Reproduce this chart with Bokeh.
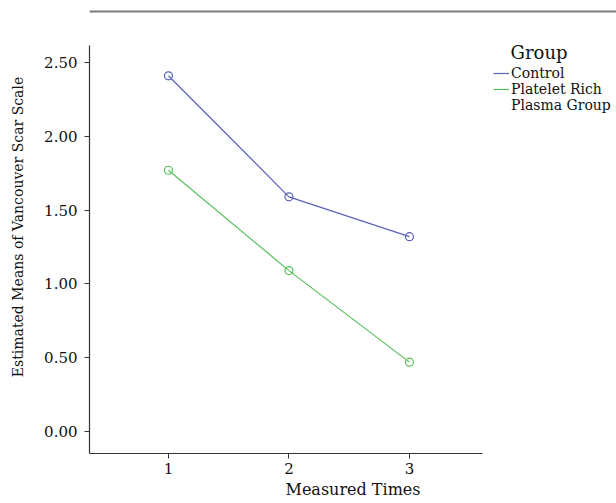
from bokeh.plotting import figure
from bokeh.models import Range1d, FixedTicker, Legend, LegendItem, NumeralTickFormatter, Span, Label
from bokeh.embed import file_html
from bokeh.resources import INLINE

times = [1, 2, 3]
control = [2.41, 1.59, 1.32]
prp = [1.77, 1.09, 0.47]
y_ticks = [0.0, 0.5, 1.0, 1.5, 2.0, 2.5]
x_ticks = [1, 2, 3]
series_names = ["Control", "Platelet Rich", "Plasma Group"]
legend_title = "Group"
x_label = "Measured Times"
y_label = "Estimated Means of Vancouver Scar Scale"

FONT = "DejaVu Serif"
BLUE = "#5a62b8"
GREEN = "#55c05a"

X_MIN, X_AX_END, X_MAX = 0.345, 3.61, 4.718
Y_MIN, Y_AX_END, Y_MAX = -0.149, 2.615, 2.920

p = figure(width=616, height=503, toolbar_location=None, output_backend="svg",
           x_range=Range1d(X_MIN, X_MAX), y_range=Range1d(Y_MIN, Y_MAX),
           min_border_left=89, min_border_right=0, min_border_top=0, min_border_bottom=50,
           outline_line_color=None)
p.grid.visible = False

# decorative page rule at the top
p.add_layout(Span(location=2.845, dimension="width", line_color="#7a7a7a", line_width=2))

r1 = p.line(times, control, line_color=BLUE, line_width=1.2)
p.scatter(times, control, marker="circle", size=8, fill_color=None, line_color=BLUE, line_width=1.2)
r2 = p.line(times, prp, line_color=GREEN, line_width=1.2)
p.scatter(times, prp, marker="circle", size=8, fill_color=None, line_color=GREEN, line_width=1.2)

for ax in (p.xaxis[0], p.yaxis[0]):
    ax.axis_line_color = "#333333"
    ax.axis_line_width = 1.2
    ax.major_tick_line_color = "#333333"
    ax.major_tick_in = 0
    ax.major_tick_out = 5
    ax.minor_tick_line_color = None
    ax.major_label_text_font = FONT
    ax.major_label_text_font_size = "15px"
    ax.major_label_text_color = "#111111"
    ax.axis_label_text_font = FONT
    ax.axis_label_text_font_style = "normal"
    ax.axis_label_text_color = "#111111"

p.xaxis.bounds = (X_MIN, X_AX_END)
p.yaxis.bounds = (Y_MIN, Y_AX_END)
p.xaxis.ticker = FixedTicker(ticks=x_ticks)
p.yaxis.ticker = FixedTicker(ticks=y_ticks)
p.yaxis.formatter = NumeralTickFormatter(format="0.00")
p.xaxis.axis_label = x_label
p.yaxis.axis_label = y_label
p.xaxis.axis_label_text_font_size = "16px"
p.yaxis.axis_label_text_font_size = "14px"
p.xaxis.major_label_standoff = 4
p.yaxis.major_label_standoff = 7
p.xaxis.axis_label_standoff = 3
p.yaxis.axis_label_standoff = 15

legend = Legend(items=[LegendItem(label=series_names[0], renderers=[r1]),
                       LegendItem(label=series_names[1], renderers=[r2]),
                       LegendItem(label=series_names[2], renderers=[])],
                location=(404, 340))
legend.label_text_font = FONT
legend.label_text_font_size = "14px"
legend.label_text_color = "#111111"
legend.label_standoff = 2
legend.label_height = 16
legend.glyph_height = 16
legend.glyph_width = 16
legend.spacing = 0
legend.padding = 0
legend.margin = 0
legend.border_line_color = None
legend.background_fill_alpha = 0
p.add_layout(legend)

# legend title, aligned with the legend labels
p.add_layout(Label(x=3.839, y=2.568, text=legend_title, text_font=FONT,
                   text_font_size="18px", text_color="#111111",
                   text_baseline="middle", text_align="left"))

open("out.html", "w").write(file_html(p, INLINE))
